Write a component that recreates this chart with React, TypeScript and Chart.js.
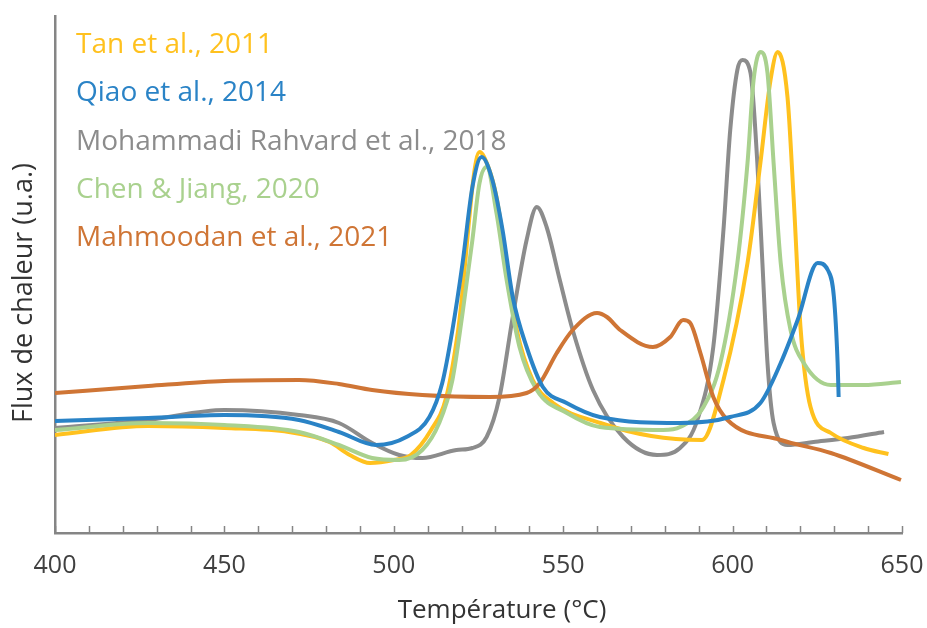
import React, { useEffect, useRef } from "react";
import { Chart, registerables } from "chart.js";

Chart.register(...registerables);

const seriesLabels = [
  "Tan et al., 2011",
  "Qiao et al., 2014",
  "Mohammadi Rahvard et al., 2018",
  "Chen & Jiang, 2020",
  "Mahmoodan et al., 2021",
];
const seriesColors = ["#FFC11E", "#2A83C6", "#8C8C8C", "#A9D18E", "#CF7535"];

const tanX = [400, 427.5, 450, 469, 481, 487, 493, 500, 505, 511, 515.5, 519, 525.3, 528, 530.3, 533.3, 536.3, 541, 547, 561, 576, 591, 597.3, 604.4, 608.2, 611.2, 613.3, 616.2, 618, 620.1, 623, 629, 638.7, 646];
const tanY = [98, 107, 105, 101, 91, 78, 70, 73, 78, 103, 136, 203, 381, 365, 336, 270, 203, 153, 130, 110, 97, 93, 153, 270, 370, 453, 481, 436, 336, 203, 126, 100, 85, 79];

const qiaoX = [400, 427.5, 450, 472, 483.8, 494.8, 503.7, 510.5, 514.3, 517.3, 520.3, 523.2, 525.9, 529.1, 532.1, 535.1, 539.2, 544, 551, 560.8, 584.5, 599.3, 608.2, 614.2, 619.2, 625.1, 628.1, 629.9, 631, 631.3];
const qiaoY = [112, 115, 118, 113, 101, 88, 96, 116, 150, 203, 270, 346, 376, 353, 303, 236, 186, 146, 130, 116, 110, 116, 130, 170, 213, 270, 263, 236, 170, 136];

const mohX = [400, 427.5, 450, 472, 483.8, 493.6, 501.6, 508.4, 518.5, 523.2, 527.4, 531.2, 535.1, 539.2, 542.2, 545.1, 549, 552.8, 558.8, 567.7, 577.7, 584.5, 589.6, 594.3, 597.3, 599.3, 601.4, 602.9, 605.3, 607.3, 608.8, 610.3, 612.1, 616.2, 623.9, 634, 644.7];
const mohY = [105, 113, 123, 118, 110, 90, 78, 75, 83, 85, 96, 136, 216, 293, 326, 306, 253, 203, 143, 96, 78, 85, 113, 186, 303, 403, 463, 473, 460, 370, 270, 170, 110, 88, 91, 95, 101];

const chenX = [400, 427.5, 450, 472, 483.8, 493.6, 501.6, 508.4, 513.4, 517.3, 520.3, 523.2, 525.3, 527.4, 530.3, 533.3, 537.1, 542.2, 551.1, 560.8, 579.5, 584.5, 591.4, 596.4, 601.4, 604.4, 606.2, 608.2, 610.3, 612.1, 614.2, 617.1, 621, 629, 638.7, 649.7];
const chenY = [103, 110, 108, 101, 88, 75, 73, 83, 110, 153, 220, 293, 350, 366, 320, 253, 186, 143, 120, 106, 103, 106, 126, 170, 270, 370, 453, 481, 460, 370, 270, 203, 170, 148, 148, 151];

const mahX = [400, 427.5, 450, 472, 483.8, 493.6, 508.4, 528.3, 539.2, 543.1, 548.1, 552.8, 560, 562.9, 566.8, 576.5, 581.6, 585.4, 587.5, 590.5, 594.3, 598.5, 614.2, 629, 649.7];
const mahY = [140, 147, 152, 153, 149, 143, 138, 136, 140, 150, 180, 203, 220, 216, 203, 186, 196, 213, 210, 180, 136, 113, 93, 80, 53];

const xMin = 400;
const xMax = 650;
const xStep = 10;
const xLabelStep = 50;
const xTitle = "Température (°C)";
const yTitle = "Flux de chaleur (u.a.)";

const seriesX = [tanX, qiaoX, mohX, chenX, mahX];
const seriesY = [tanY, qiaoY, mohY, chenY, mahY];
const drawOrder = [3, 0, 4, 2, 1];

const FONT = "'Open Sans', 'DejaVu Sans', sans-serif";

const decorPlugin = {
  id: "decor",
  afterDraw(chart: any) {
    const { ctx, chartArea, scales } = chart;
    const xs = scales.x;
    ctx.save();
    // inward tick marks
    ctx.strokeStyle = "#858585";
    ctx.lineWidth = 1.5;
    for (const t of xs.ticks) {
      const px = Math.round(xs.getPixelForValue(t.value)) + 0.5;
      ctx.beginPath();
      ctx.moveTo(px, chartArea.bottom);
      ctx.lineTo(px, chartArea.bottom - 7);
      ctx.stroke();
    }
    // legend texts
    ctx.font = `28px ${FONT}`;
    ctx.textBaseline = "alphabetic";
    ctx.textAlign = "left";
    chart.data.datasets.forEach((ds: any, i: number) => {
      ctx.fillStyle = ds.borderColor;
      ctx.fillText(ds.label, chartArea.left + 21, chartArea.top + 37 + i * 48.3);
    });
    // axis titles
    ctx.fillStyle = "#333333";
    ctx.font = `26px ${FONT}`;
    ctx.textAlign = "center";
    ctx.textBaseline = "middle";
    ctx.fillText(xTitle, chartArea.left + 447, chartArea.bottom + 78);
    ctx.font = `27px ${FONT}`;
    ctx.translate(24, chartArea.top + 277);
    ctx.rotate(-Math.PI / 2);
    ctx.fillText(yTitle, 0, 0);
    ctx.restore();
  },
};

export default function App() {
  const canvasRef = useRef<HTMLCanvasElement | null>(null);

  useEffect(() => {
    document.body.style.margin = "0";
    const canvas = canvasRef.current;
    if (!canvas) return;
    const datasets = seriesLabels.map((label, i) => ({
      label,
      data: seriesX[i].map((x, j) => ({ x, y: seriesY[i][j] })),
      borderColor: seriesColors[i],
      backgroundColor: seriesColors[i],
      borderWidth: 4,
      pointRadius: 0,
      fill: false,
      cubicInterpolationMode: "monotone" as const,
      order: drawOrder[i],
    }));
    const chart = new Chart(canvas, {
      type: "line",
      data: { datasets },
      options: {
        animation: false,
        responsive: false,
        devicePixelRatio: 1,
        layout: { padding: { top: 16, right: 25, left: 0, bottom: 0 } },
        plugins: { legend: { display: false }, tooltip: { enabled: false } },
        scales: {
          x: {
            type: "linear",
            min: xMin,
            max: xMax,
            afterFit: (s: any) => {
              s.height = 95;
              s.paddingLeft = 0;
              s.paddingRight = 0;
            },
            border: { display: true, color: "#858585", width: 2.5 },
            grid: { display: true, drawOnChartArea: false, drawTicks: false },
            ticks: {
              stepSize: xStep,
              autoSkip: false,
              maxRotation: 0,
              padding: 18,
              color: "#404040",
              font: { family: FONT, size: 25 },
              callback: (v: any) => (Number(v) % xLabelStep === 0 ? String(v) : ""),
            },
          },
          y: {
            type: "linear",
            min: 0,
            max: 517,
            afterFit: (s: any) => {
              s.width = 55;
              s.paddingTop = 0;
              s.paddingBottom = 0;
            },
            border: { display: true, color: "#858585", width: 2.5 },
            grid: { display: false },
            ticks: { display: false },
          },
        },
      },
      plugins: [decorPlugin],
    });
    return () => chart.destroy();
  }, []);

  return (
    <div style={{ position: "absolute", left: 0, top: 0, width: 927, height: 628 }}>
      <canvas ref={canvasRef} width={927} height={628} />
    </div>
  );
}
